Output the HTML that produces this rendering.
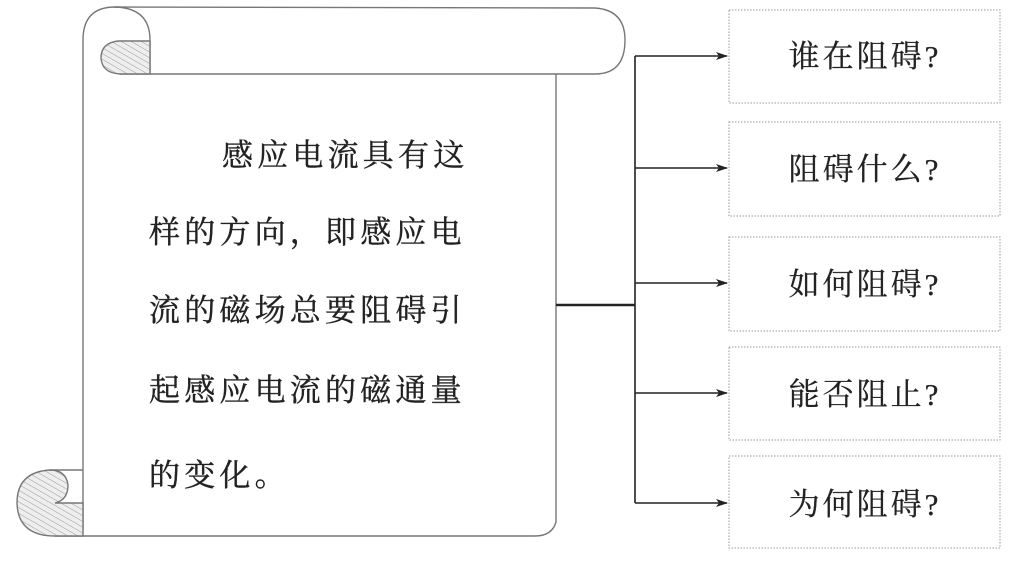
<!DOCTYPE html>
<html><head><meta charset="utf-8"><style>
html,body{margin:0;padding:0;background:#fff;}
svg{display:block;}
.t{font-family:"Liberation Serif","Noto Serif CJK SC",serif;fill:#222;}
</style></head><body>
<svg width="1020" height="569" viewBox="0 0 1020 569" xmlns="http://www.w3.org/2000/svg">
<defs>
<pattern id="h" width="5" height="5" patternUnits="userSpaceOnUse" patternTransform="rotate(30)">
<rect width="5" height="5" fill="#eee"/><line x1="0" y1="0" x2="5" y2="0" stroke="#999" stroke-width="1"/>
</pattern>
<marker id="a" markerWidth="12" markerHeight="8" refX="11" refY="4" orient="auto" markerUnits="userSpaceOnUse">
<path d="M0,0 L12,4 L0,8 L3,4 Z" fill="#222"/>
</marker>
</defs>
<g fill="none" stroke="#777" stroke-width="1.4">
<path d="M115,7 L595,8 Q625,10 625,40 Q625,74 595,74 L120,74" fill="#fff"/>
<path d="M83,530 L83,40 Q83,7 115,7 Q150,8 150,40 L150,74"/>
<path d="M150,41 L118,41 Q101,43 101,58 Q102,73 120,74 L150,74 Z" fill="url(#h)"/>
<path d="M556,74 L556,522 Q552,536 535,536 L55,536"/>
<path d="M50,470 Q17,472 17,503 Q18,536 55,536 L83,536 L83,503 L55,503 Q68,500 68,485 Q66,470 50,470 Z" fill="url(#h)"/>
<line x1="50" y1="470" x2="83" y2="470"/>
</g>
<g class="t" font-size="31" letter-spacing="4.2" stroke="#222" stroke-width="0.4">
<text x="222" y="166">感应电流具有这</text>
<text x="149" y="243">样的方向，即感应电</text>
<text x="149" y="321">流的磁场总要阻碍引</text>
<text x="149" y="401">起感应电流的磁通量</text>
<text x="149" y="486">的变化。</text>
</g>
<g stroke="#222" fill="none">
<line x1="556" y1="305" x2="635" y2="305" stroke-width="2.5"/>
<line x1="635" y1="56" x2="635" y2="503" stroke-width="1.6"/>
<g stroke-width="1.6" marker-end="url(#a)">
<line x1="635" y1="56" x2="727" y2="56"/>
<line x1="635" y1="168" x2="727" y2="168"/>
<line x1="635" y1="283" x2="727" y2="283"/>
<line x1="635" y1="393" x2="727" y2="393"/>
<line x1="635" y1="503" x2="727" y2="503"/>
</g>
</g>
<g fill="none" stroke="#999" stroke-width="1" stroke-dasharray="1.5,1.5">
<rect x="729" y="10" width="271" height="93"/>
<rect x="729" y="122" width="271" height="94"/>
<rect x="729" y="237" width="271" height="94"/>
<rect x="729" y="347" width="271" height="93"/>
<rect x="729" y="456" width="271" height="92"/>
</g>
<g class="t" font-size="31" letter-spacing="3" text-anchor="middle" stroke="#222" stroke-width="0.3">
<text x="865" y="67">谁在阻碍?</text>
<text x="865" y="180">阻碍什么?</text>
<text x="865" y="295">如何阻碍?</text>
<text x="865" y="405">能否阻止?</text>
<text x="865" y="515">为何阻碍?</text>
</g>
</svg>
</body></html>
